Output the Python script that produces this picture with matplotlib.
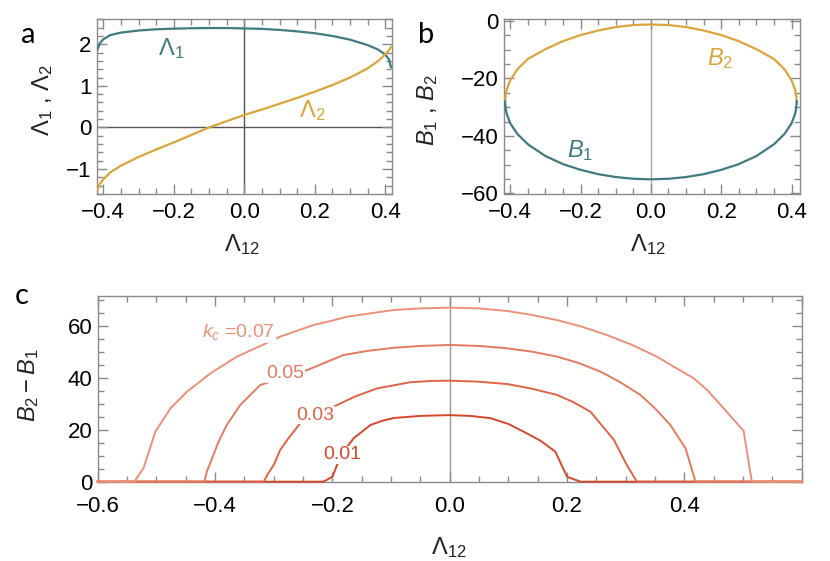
import matplotlib
matplotlib.use("Agg")
import matplotlib.pyplot as plt
from matplotlib.ticker import MultipleLocator, FixedLocator

plt.rcParams['font.family'] = ['Liberation Sans', 'DejaVu Sans']
plt.rcParams['mathtext.fontset'] = 'custom'
plt.rcParams['mathtext.rm'] = 'Liberation Sans'
plt.rcParams['mathtext.it'] = 'Liberation Sans:italic'

# ---- panel a data: Lambda1, Lambda2 vs Lambda12 ----
lam12_a = [-0.416, -0.41, -0.40, -0.38, -0.35, -0.30, -0.25, -0.20, -0.15, -0.10,
           -0.05, 0.0, 0.05, 0.10, 0.15, 0.20, 0.25, 0.30, 0.35, 0.38, 0.40, 0.41, 0.416]
lam1 = [1.88, 2.02, 2.12, 2.22, 2.28, 2.33, 2.36, 2.375, 2.385, 2.39,
        2.39, 2.38, 2.37, 2.345, 2.31, 2.265, 2.20, 2.11, 1.98, 1.87, 1.75, 1.64, 1.45]
lam2 = [-1.50, -1.36, -1.25, -1.08, -0.92, -0.71, -0.53, -0.36, -0.18, 0.0,
        0.15, 0.30, 0.43, 0.57, 0.71, 0.86, 1.02, 1.20, 1.42, 1.60, 1.76, 1.85, 1.93]

# ---- panel b data: B1, B2 vs Lambda12 ----
lam12_b = [-0.415, -0.413, -0.41, -0.40, -0.38, -0.35, -0.30, -0.25, -0.20, -0.15, -0.10,
           -0.05, 0.0, 0.05, 0.10, 0.15, 0.20, 0.25, 0.30, 0.35, 0.38, 0.40, 0.41, 0.413, 0.415]
b2 = [-28.0, -25.5, -23.8, -20.6, -16.8, -13.2, -9.8, -7.0, -4.9, -3.3, -2.1,
      -1.4, -1.2, -1.4, -2.1, -3.3, -4.9, -7.0, -9.8, -13.2, -16.8, -20.6, -23.8, -25.5, -28.0]
b1 = [-28.0, -30.5, -32.4, -35.6, -39.3, -42.9, -47.0, -49.8, -51.8, -53.3, -54.3,
      -54.9, -55.1, -54.9, -54.3, -53.3, -51.8, -49.8, -47.0, -42.9, -39.3, -35.6, -32.4, -30.5, -28.0]

# ---- panel c data: B2 - B1 vs Lambda12 for several k_c ----
kc_labels = ['0.01', '0.03', '0.05', '0.07']
kc_colors = ['#d2482c', '#dd6446', '#e47a60', '#eb9079']
x_k01 = [-0.6, -0.215, -0.200, -0.192, -0.181, -0.164, -0.135, -0.115, -0.095, -0.05, 0.0,
         0.035, 0.070, 0.100, 0.126, 0.155, 0.180, 0.200, 0.223, 0.6]
y_k01 = [0, 0, 1.9, 6.4, 11.6, 16.7, 21.9, 23.5, 24.6, 25.4, 25.7,
         25.4, 24.5, 22.3, 19.3, 15.8, 11.6, 1.9, 0, 0]
x_k03 = [-0.6, -0.317, -0.311, -0.300, -0.289, -0.277, -0.255, -0.192, -0.160, -0.124, -0.067,
         -0.03, 0.0, 0.05, 0.098, 0.140, 0.183, 0.210, 0.240, 0.280, 0.302, 0.319, 0.6]
y_k03 = [0, 0, 2.6, 6.4, 12.2, 16.1, 22.5, 29.6, 33.0, 36.0, 38.4,
         38.9, 39.0, 38.6, 37.7, 35.9, 33.5, 30.8, 27.0, 16.1, 6.4, 0, 0]
x_k05 = [-0.6, -0.418, -0.414, -0.405, -0.394, -0.380, -0.357, -0.323, -0.280, -0.243, -0.181,
         -0.140, -0.095, -0.05, 0.0, 0.05, 0.098, 0.140, 0.183, 0.220, 0.257, 0.290, 0.325,
         0.350, 0.376, 0.402, 0.419, 0.6]
y_k05 = [0, 0, 3.9, 9.0, 15.4, 21.9, 29.6, 37.3, 40.5, 43.1, 48.9,
         50.5, 51.7, 52.4, 52.8, 52.4, 51.5, 50.2, 48.3, 45.8, 42.5, 38.5, 33.5,
         28.3, 21.9, 12.9, 0, 0]
x_k07 = [-0.6, -0.5375, -0.5216, -0.5017, -0.476, -0.448, -0.408, -0.3625, -0.317, -0.289,
         -0.260, -0.232, -0.200, -0.175, -0.135, -0.095, -0.05, 0.0, 0.05, 0.098, 0.140, 0.183,
         0.226, 0.268, 0.311, 0.353, 0.382, 0.416, 0.439, 0.467, 0.501, 0.515, 0.6]
y_k07 = [0, 0, 5.4, 19.3, 28.3, 34.7, 41.8, 48.3, 53.0, 56.0,
         58.3, 60.5, 62.2, 63.7, 65.0, 66.3, 66.9, 67.2, 66.9, 65.9, 64.4, 62.4,
         59.8, 56.6, 52.8, 48.3, 44.4, 39.9, 35.4, 28.3, 19.6, 0, 0]
kc_x = [x_k01, x_k03, x_k05, x_k07]
kc_y = [y_k01, y_k03, y_k05, y_k07]

teal = '#3f7b80'
gold = '#dba53c'
frame_col = '#8a8a8a'


def style_axes(ax, xmaj, xmin, ymaj, ymin, xpad=6):
    for s in ax.spines.values():
        s.set_color(frame_col)
        s.set_linewidth(1.0)
    ax.xaxis.set_major_locator(xmaj)
    ax.xaxis.set_minor_locator(MultipleLocator(xmin))
    ax.yaxis.set_major_locator(ymaj)
    ax.yaxis.set_minor_locator(MultipleLocator(ymin))
    ax.tick_params(which='both', direction='in', top=True, right=True,
                   color=frame_col, width=1.0, labelsize=16, labelcolor='black')
    ax.tick_params(which='major', length=7)
    ax.tick_params(which='minor', length=4)
    ax.tick_params(axis='x', pad=xpad)
    ax.tick_params(axis='y', pad=4)


fig = plt.figure(figsize=(8.3, 5.61), dpi=100)

# panel a
ax_a = fig.add_axes([0.1172, 0.6542, 0.3551, 0.3114])
ax_a.axvline(0, color='#555555', lw=1.0, zorder=1)
ax_a.axhline(0, color='#555555', lw=1.0, zorder=1)
ax_a.plot(lam12_a, lam1, color=teal, lw=1.6, zorder=3)
ax_a.plot(lam12_a, lam2, color=gold, lw=1.6, zorder=3)
ax_a.set_xlim(-0.417, 0.419)
ax_a.set_ylim(-1.6, 2.6)
style_axes(ax_a, FixedLocator([-0.4, -0.2, 0.0, 0.2, 0.4]), 0.05, FixedLocator([-1, 0, 1, 2]), 0.2)
ax_a.set_xticklabels(['\u22120.4', '\u22120.2', '0.0', '0.2', '0.4'])
ax_a.text(-0.206, 1.89, '\u039b$_1$', color=teal, fontsize=17, ha='center', va='center')
ax_a.text(0.192, 0.40, '\u039b$_2$', color=gold, fontsize=17, ha='center', va='center')

# panel b
ax_b = fig.add_axes([0.6072, 0.6542, 0.3566, 0.3114])
ax_b.axvline(0, color='#aaaaaa', lw=1.0, zorder=1)
ax_b.plot(lam12_b, b2, color=gold, lw=1.6, zorder=3)
ax_b.plot(lam12_b, b1, color=teal, lw=1.6, zorder=3)
ax_b.set_xlim(-0.418, 0.424)
ax_b.set_ylim(-60.2, 0.6)
style_axes(ax_b, FixedLocator([-0.4, -0.2, 0.0, 0.2, 0.4]), 0.05, FixedLocator([-60, -40, -20, 0]), 5)
ax_b.set_xticklabels(['\u22120.4', '\u22120.2', '0.0', '0.2', '0.4'])
ax_b.text(0.197, -12.9, '$B_2$', color=gold, fontsize=17, ha='center', va='center')
ax_b.text(-0.201, -45.1, '$B_1$', color=teal, fontsize=17, ha='center', va='center')

# panel c
ax_c = fig.add_axes([0.1177, 0.1414, 0.8482, 0.331])
ax_c.axvline(0, color='#999999', lw=1.0, zorder=1)
for xs, ys, col in zip(kc_x, kc_y, kc_colors):
    ax_c.plot(xs, ys, color=col, lw=1.4, zorder=3, clip_on=False)
ax_c.set_xlim(-0.6, 0.6)
ax_c.set_ylim(0, 71.7)
style_axes(ax_c, FixedLocator([-0.6, -0.4, -0.2, 0.0, 0.2, 0.4, 0.6]), 0.05,
           FixedLocator([0, 20, 40, 60]), 5, xpad=10)
ax_c.set_xticklabels(['\u22120.6', '\u22120.4', '\u22120.2', '0.0', '0.2', '0.4', ''])
lab_pos = [(-0.183, 10.3), (-0.230, 25.7), (-0.281, 41.8), (-0.360, 57.9)]
for (lx, ly), lab, col in zip(lab_pos, kc_labels, kc_colors):
    txt = lab if lab != '0.07' else '$k_c$ =0.07'
    ax_c.text(lx, ly, txt, color=col, fontsize=14, ha='center', va='center',
              bbox=dict(facecolor='white', edgecolor='none', pad=0.5), zorder=4)

# axis labels and panel letters
fig.text(241.7 / 830, 1 - 245 / 561, '\u039b$_{12}$', fontsize=17, ha='center', va='center', color='#222222')
fig.text(648 / 830, 1 - 245 / 561, '\u039b$_{12}$', fontsize=17, ha='center', va='center', color='#222222')
fig.text(449 / 830, 1 - 548 / 561, '\u039b$_{12}$', fontsize=17, ha='center', va='center', color='#222222')
fig.text(43 / 830, 1 - 100 / 561, '\u039b$_1$ , \u039b$_2$', fontsize=17, rotation=90,
         ha='center', va='center', color='#222222')
fig.text(428 / 830, 1 - 110 / 561, '$B_1$ , $B_2$', fontsize=17, rotation=90,
         ha='center', va='center', color='#222222')
fig.text(29 / 830, 1 - 385 / 561, '$B_2 - B_1$', fontsize=17, rotation=90,
         ha='center', va='center', color='#222222')
fig.text(28 / 830, 1 - 35 / 561, 'a', fontsize=21, ha='center', va='center', family=['Lato', 'DejaVu Sans'])
fig.text(426 / 830, 1 - 35 / 561, 'b', fontsize=21, ha='center', va='center', family=['Lato', 'DejaVu Sans'])
fig.text(22 / 830, 1 - 296 / 561, 'c', fontsize=21, ha='center', va='center', family=['Lato', 'DejaVu Sans'])

fig.savefig('out.png', dpi=100)
